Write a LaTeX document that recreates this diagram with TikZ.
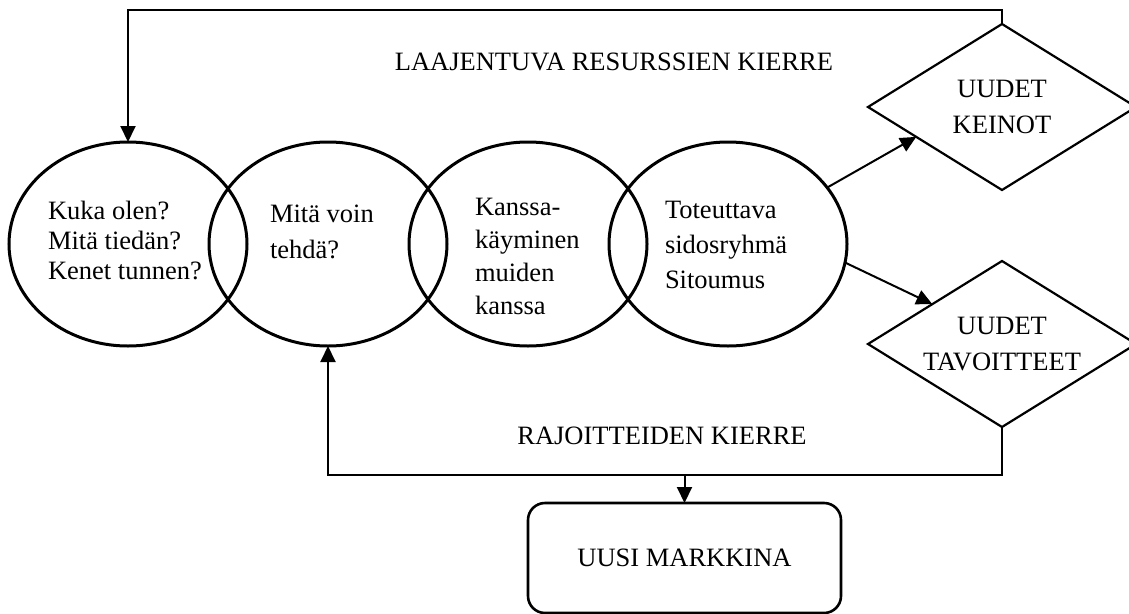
\documentclass[tikz,border=0pt]{standalone}
\usepackage{fontspec}
\setmainfont{Liberation Serif}
\usetikzlibrary{shapes.geometric,arrows.meta,calc}

\tikzset{
  txt/.style={font=\fontsize{26.5}{#1}\selectfont, inner sep=0pt, outer sep=0pt},
  circ/.style={ellipse, draw, line width=3pt, minimum width=238pt, minimum height=204pt, inner sep=0pt, outer sep=0pt},
  rhomb/.style={diamond, draw, line width=2.2pt, minimum width=268pt, minimum height=166pt, aspect=1.614, inner sep=0pt, outer sep=0pt, align=center, font=\fontsize{26.5}{36}\selectfont},
  market/.style={draw, line width=2.6pt, rounded corners=17pt, minimum width=313pt, minimum height=110pt, inner sep=0pt, outer sep=0pt, font=\fontsize{26.5}{30}\selectfont},
  arr/.style={line width=2pt, -{Triangle[length=16pt,width=15pt]}},
  wire/.style={line width=2pt}
}

\begin{document}
\begin{tikzpicture}[x=1pt,y=-1pt]
  \useasboundingbox (0,0) rectangle (1129,613);

  % the four overlapping ellipses
  \node[circ] (e1) at (128,244) {};
  \node[circ] (e2) at (328,244) {};
  \node[circ] (e3) at (528,244) {};
  \node[circ] (e4) at (728,244) {};

  \node[txt=30, align=left, anchor=west] (t1) at (48,240) {Kuka olen?\\Mitä tiedän?\\Kenet tunnen?};
  \node[txt=36, align=left, anchor=west] (t2) at (270,232) {Mitä voin\\tehdä?};
  \node[txt=33, align=left, anchor=west] (t3) at (475,256) {Kanssa-\\käyminen\\muiden\\kanssa};
  \node[txt=35, align=left, anchor=west] (t4) at (665,245) {Toteuttava\\sidosryhmä\\Sitoumus};

  % outcomes
  \node[rhomb] (dk) at (1002,107) {UUDET\\KEINOT};
  \node[rhomb] (dt) at (1002,344) {UUDET\\TAVOITTEET};
  \node[market] (mk) at (684.5,558) {UUSI MARKKINA};

  % loop labels
  \node[txt=30] (lres) at (614,62) {LAAJENTUVA RESURSSIEN KIERRE};
  \node[txt=30] (lraj) at (662,436) {RAJOITTEIDEN KIERRE};

  \coordinate (topline) at (0,10);
  \coordinate (botline) at (0,475);

  % arrows out of the last ellipse
  \draw[arr] (e4) -- ($(dk.west)!0.36!(dk.south)$);
  \draw[arr] (e4.-9) -- ($(dt.west)!0.48!(dt.north)$);

  % expanding resource loop
  \draw[arr] (dk.north) -- (dk.north |- topline) -| (e1.north);

  % constraint loop
  \draw[arr] (dt.south) -- (dt.south |- botline) -| (e2.south);
  \draw[arr] (mk.north |- botline) -- (mk.north);
\end{tikzpicture}
\end{document}
